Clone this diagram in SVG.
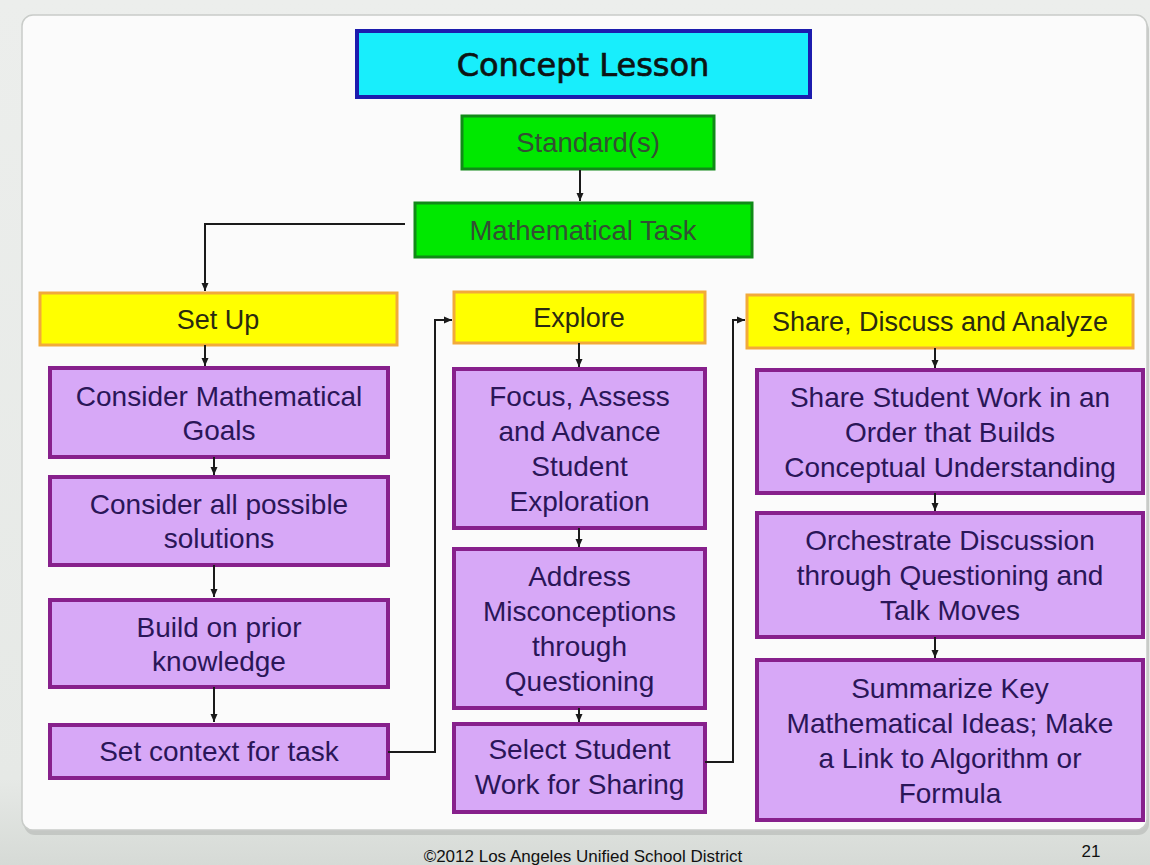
<svg xmlns="http://www.w3.org/2000/svg" width="1150" height="865" viewBox="0 0 1150 865">
<defs>
<linearGradient id="bg" x1="0" y1="0" x2="0" y2="1">
<stop offset="0" stop-color="#eceeec"/>
<stop offset="0.9" stop-color="#e6e9e6"/>
<stop offset="1" stop-color="#d6dad6"/>
</linearGradient>
<marker id="ah" markerUnits="userSpaceOnUse" markerWidth="10" markerHeight="10" refX="9" refY="5" orient="auto">
<path d="M1,1.5 L9,5 L1,8.5 Z" fill="#1a1a1a"/>
</marker>
<style>
.purple rect{fill:#d7a8f7;stroke:#87208c;stroke-width:4}
.purple text{font-family:"Liberation Sans",Arial,sans-serif;font-size:28px;fill:#2a1658;text-anchor:middle}
.yellow rect{fill:#ffff00;stroke:#f2aa3a;stroke-width:3}
.yellow text{font-family:"Liberation Sans",Arial,sans-serif;font-size:27px;fill:#2a2a10;text-anchor:middle}
.green rect{fill:#00e800;stroke:#118a18;stroke-width:3}
.green text{font-family:"Liberation Sans",Arial,sans-serif;font-size:27.5px;fill:#335033;text-anchor:middle}
.conn path{fill:none;stroke:#1a1a1a;stroke-width:2}
.foot{font-family:"Liberation Sans",Arial,sans-serif;font-size:17px;fill:#111}
</style>
</defs>
<rect x="0" y="0" width="1150" height="865" fill="url(#bg)"/>
<rect x="24" y="19" width="1125" height="816" rx="11" fill="#b9bcb9" opacity="0.7"/>
<rect x="22" y="15" width="1125" height="815" rx="11" fill="#fbfbfb" stroke="#c9ccc9" stroke-width="1.5"/>

<g id="concept-lesson">
<rect x="357" y="31" width="453" height="66" fill="#18eefc" stroke="#1c1cae" stroke-width="4"/>
<text x="583" y="76" font-family="DejaVu Sans, Verdana, sans-serif" font-size="32" fill="#0c1414" stroke="#0c1414" stroke-width="0.7" text-anchor="middle">Concept Lesson</text>
</g>

<g id="standards" class="green">
<rect x="462" y="116" width="252" height="53"/>
<text x="588" y="152">Standard(s)</text>
</g>

<g id="math-task" class="green">
<rect x="415" y="203" width="337" height="54"/>
<text x="583" y="240">Mathematical Task</text>
</g>

<g id="set-up" class="yellow">
<rect x="40" y="293" width="357" height="52"/>
<text x="218" y="329">Set Up</text>
</g>

<g id="explore" class="yellow">
<rect x="454" y="292" width="251" height="51"/>
<text x="579" y="327">Explore</text>
</g>

<g id="share-discuss" class="yellow">
<rect x="747" y="295" width="386" height="53"/>
<text x="940" y="331">Share, Discuss and Analyze</text>
</g>

<g id="consider-goals" class="purple">
<rect x="50" y="368" width="338" height="89"/>
<text x="219" y="405.5">Consider Mathematical</text>
<text x="219" y="439.5">Goals</text>
</g>

<g id="consider-solutions" class="purple">
<rect x="50" y="477" width="338" height="88"/>
<text x="219" y="514">Consider all possible</text>
<text x="219" y="548">solutions</text>
</g>

<g id="prior-knowledge" class="purple">
<rect x="50" y="600" width="338" height="87"/>
<text x="219" y="636.5">Build on prior</text>
<text x="219" y="670.5">knowledge</text>
</g>

<g id="set-context" class="purple">
<rect x="50" y="725" width="338" height="53"/>
<text x="219" y="761">Set context for task</text>
</g>

<g id="focus-assess" class="purple">
<rect x="454" y="369" width="251" height="159"/>
<text x="579.5" y="406">Focus, Assess</text>
<text x="579.5" y="441">and Advance</text>
<text x="579.5" y="476">Student</text>
<text x="579.5" y="511">Exploration</text>
</g>

<g id="address-misconceptions" class="purple">
<rect x="454" y="549" width="251" height="159"/>
<text x="579.5" y="586">Address</text>
<text x="579.5" y="621">Misconceptions</text>
<text x="579.5" y="656">through</text>
<text x="579.5" y="691">Questioning</text>
</g>

<g id="select-work" class="purple">
<rect x="454" y="724" width="251" height="88"/>
<text x="579.5" y="759">Select Student</text>
<text x="579.5" y="794">Work for Sharing</text>
</g>

<g id="share-work" class="purple">
<rect x="757" y="370" width="386" height="123"/>
<text x="950" y="406.5">Share Student Work in an</text>
<text x="950" y="441.5">Order that Builds</text>
<text x="950" y="476.5">Conceptual Understanding</text>
</g>

<g id="orchestrate" class="purple">
<rect x="757" y="513" width="386" height="124"/>
<text x="950" y="550">Orchestrate Discussion</text>
<text x="950" y="585">through Questioning and</text>
<text x="950" y="620">Talk Moves</text>
</g>

<g id="summarize" class="purple">
<rect x="757" y="660" width="386" height="160"/>
<text x="950" y="697.5">Summarize Key</text>
<text x="950" y="732.5">Mathematical Ideas; Make</text>
<text x="950" y="767.5">a Link to Algorithm or</text>
<text x="950" y="802.5">Formula</text>
</g>

<g id="connectors" class="conn">
<path d="M580,170 V201" marker-end="url(#ah)"/>
<path d="M405,224 H205 V291" marker-end="url(#ah)" stroke-width="2.5"/>
<path d="M205,345 V366" marker-end="url(#ah)"/>
<path d="M214,457 V475" marker-end="url(#ah)"/>
<path d="M214,565 V597" marker-end="url(#ah)"/>
<path d="M214,687 V722" marker-end="url(#ah)"/>
<path d="M388,752 H435 V320 H452" marker-end="url(#ah)"/>
<path d="M579,343 V367" marker-end="url(#ah)"/>
<path d="M579,528 V547" marker-end="url(#ah)"/>
<path d="M579,708 V722" marker-end="url(#ah)"/>
<path d="M705,762 H733 V320 H745" marker-end="url(#ah)"/>
<path d="M935,348 V368" marker-end="url(#ah)"/>
<path d="M935,493 V511" marker-end="url(#ah)"/>
<path d="M935,637 V658" marker-end="url(#ah)"/>
</g>

<text class="foot" x="583" y="862" text-anchor="middle">©2012 Los Angeles Unified School District</text>
<text class="foot" x="1091" y="857" text-anchor="middle">21</text>
</svg>
